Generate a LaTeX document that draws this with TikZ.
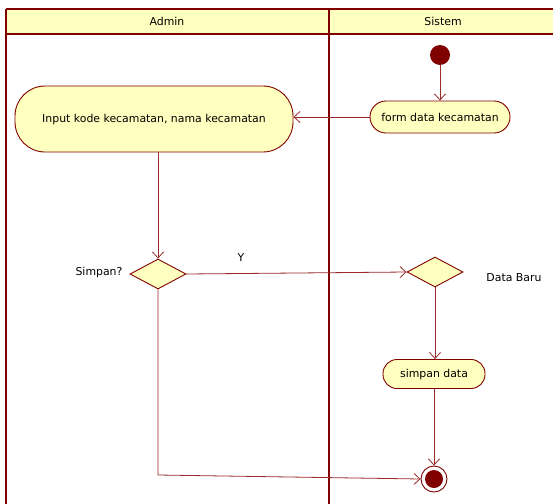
\documentclass[tikz,border=0pt]{standalone}
\usepackage{fontspec}
\setmainfont{DejaVu Sans}
\usetikzlibrary{shapes.geometric,arrows.meta}
\definecolor{dred}{HTML}{800000}
\definecolor{cline}{HTML}{9A2A2A}
\definecolor{ufill}{HTML}{FFFFC0}
\begin{document}
\begin{tikzpicture}[x=1pt,y=-1pt,
  every node/.style={font=\fontsize{10.9}{12}\selectfont, text=black},
  act/.style={draw=dred, fill=ufill, line width=0.9pt, inner sep=0pt, anchor=center},
  dec/.style={draw=dred, fill=ufill, line width=0.9pt, diamond, aspect=2, inner sep=0pt, minimum width=56pt, minimum height=30pt},
  conn/.style={draw=cline, line width=0.8pt, -{Straight Barb[length=6pt,width=11pt]}},
  lbl/.style={inner sep=0pt}
]
\useasboundingbox (0,0) rectangle (553,503);
\fill[white] (0,0) rectangle (553,503);
% header
\fill[ufill] (6,9) rectangle (560,34);
\draw[dred, line width=1.6pt] (6,9) -- (560,9);
\draw[dred, line width=1.6pt] (6,34) -- (560,34);
\draw[dred, line width=1.8pt] (6,9) -- (6,510);
\draw[dred, line width=2.8pt] (329,9) -- (329,510);
\node[lbl] (hA) at (167,21.5) {Admin};
\node[lbl] (hS) at (443,21.5) {Sistem};
% nodes
\node[circle, fill=dred, minimum size=20pt, inner sep=0pt] (init) at (440,55) {};
\node[act, rounded corners=16pt, minimum width=140pt, minimum height=32pt] (form) at (440,117) {form data kecamatan};
\node[act, rounded corners=30pt, minimum width=278pt, minimum height=66pt] (input) at (154,119) {Input kode kecamatan, nama kecamatan};
\node[dec] (d1) at (158,274) {};
\node[dec] (d2) at (435,272) {};
\node[act, rounded corners=14pt, minimum width=102pt, minimum height=29pt] (simpan) at (434,374) {simpan data};
\node[circle, draw=dred, fill=white, line width=0.9pt, minimum size=26pt, inner sep=0pt] (fin) at (434,479) {};
\node[circle, fill=dred, minimum size=18pt, inner sep=0pt] (finin) at (fin.center) {};
% labels
\node[lbl] (lS) at (99,272) {Simpan?};
\node[lbl] (lY) at (241,258) {Y};
\node[lbl] (lD) at (514,278) {Data Baru};
% connectors
\draw[conn] (init) -- (form);
\draw[conn] (form.west) -- (input.east |- form.west);
\draw[conn] (input.south -| d1.north) -- (d1.north);
\draw[conn] (d1.east) -- (d2.west);
\draw[conn] (d2.south) -- (simpan.north -| d2.south);
\draw[conn] (simpan.south) -- (fin.north);
\coordinate (corner) at (158,475);
\draw[conn] (d1.south) -- (corner) -- (fin.west);
\end{tikzpicture}
\end{document}
